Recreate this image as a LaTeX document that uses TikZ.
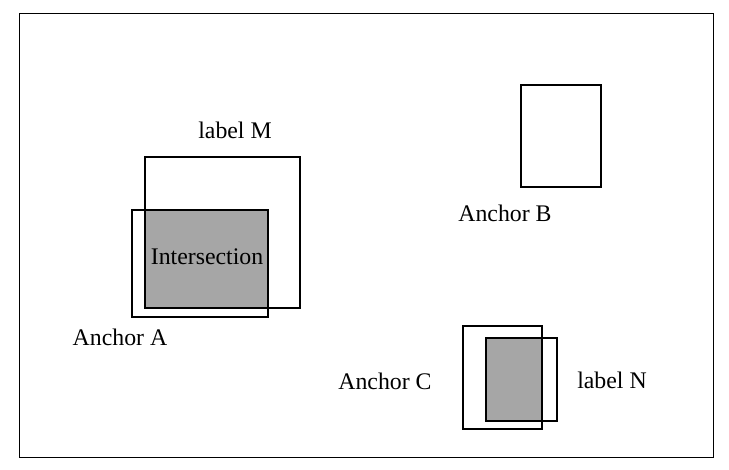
\documentclass[tikz,border=0pt]{standalone}
\usepackage{fontspec}
\setmainfont{Liberation Serif}
\definecolor{interfill}{HTML}{A6A6A6}
\begin{document}
\begin{tikzpicture}[x=1pt,y=-1pt,
  box/.style={draw=black, line width=1.3pt, inner sep=0pt, outer sep=0pt, anchor=north west},
  grayfill/.style={fill=interfill, draw=none, inner sep=0pt, outer sep=0pt, anchor=north west},
  txt/.style={font=\fontsize{23.8}{28}\selectfont, inner sep=0pt}]
\useasboundingbox (0,0) rectangle (729,470);
\node[draw=black, line width=1.3pt, inner sep=0pt, anchor=north west, minimum width=694pt, minimum height=444pt] (frame) at (19,13) {};
% left group
\node[grayfill, minimum width=123pt, minimum height=98pt] (inter) at (145,210) {};
\node[box, minimum width=155pt, minimum height=151pt] (boxM) at (145,157) {};
\node[box, minimum width=136pt, minimum height=107pt] (boxA) at (132,210) {};
\node[txt] (intertxt) at (207,257) {Intersection};
\node[txt] (labM) at (235,130) {label M};
\node[txt] (ancA) at (120,337) {Anchor A};
% B
\node[box, minimum width=80pt, minimum height=102pt] (boxB) at (521,85) {};
\node[txt] (ancB) at (505,213) {Anchor B};
% C group
\node[grayfill, minimum width=56pt, minimum height=83pt] (interC) at (486,338) {};
\node[box, minimum width=79pt, minimum height=103pt] (boxC) at (463,326) {};
\node[box, minimum width=71pt, minimum height=83pt] (boxN) at (486,338) {};
\node[txt] (ancC) at (385,381) {Anchor C};
\node[txt] (labN) at (612,380) {label N};
\end{tikzpicture}
\end{document}
